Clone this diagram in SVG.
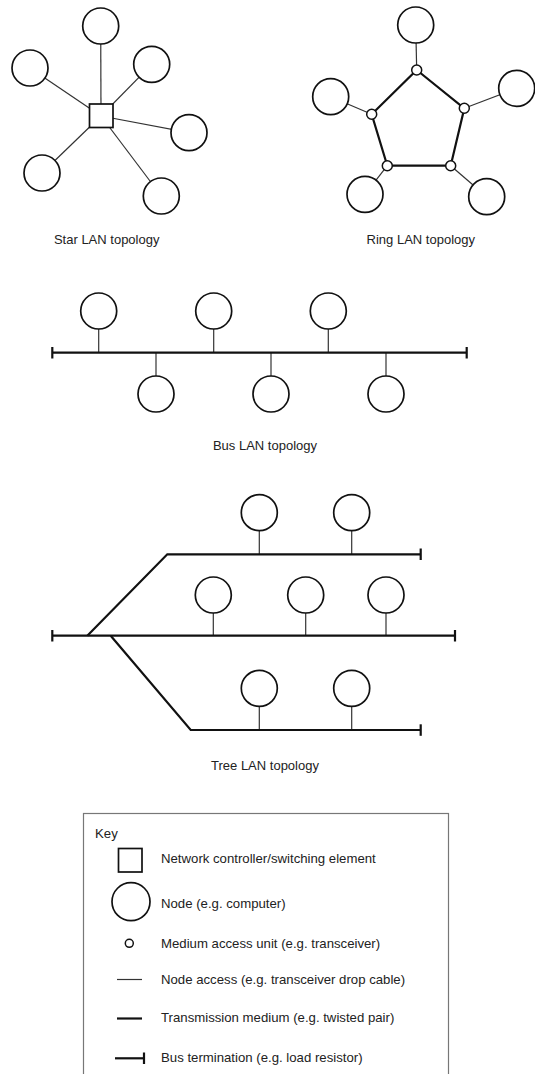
<svg xmlns="http://www.w3.org/2000/svg" width="535" height="1074" viewBox="0 0 535 1074">
<style>
  .node { fill: #fff; stroke: #111; stroke-width: 1.7; }
  .mau { fill: #fff; stroke: #111; stroke-width: 1.5; }
  .ctrl { fill: #fff; stroke: #111; stroke-width: 1.7; }
  .drop { stroke: #333; stroke-width: 1.2; fill: none; }
  .medium { stroke: #111; stroke-width: 2.2; fill: none; }
  .term { stroke: #111; stroke-width: 2.2; fill: none; }
  .label { font-family: "Liberation Sans", Arial, sans-serif; font-size: 13px; fill: #222; }
  .keytext { font-family: "Liberation Sans", Arial, sans-serif; font-size: 13.2px; fill: #222; }
  .keybox { fill: none; stroke: #777; stroke-width: 1.2; }
</style>
<defs>
  <circle id="n" r="18" class="node"/>
</defs>

<!-- connectors -->
<g id="connectors">
  <!-- star -->
  <g id="star-links" class="drop">
    <line x1="101" y1="116" x2="100.7" y2="26"/>
    <line x1="101" y1="116" x2="30" y2="68"/>
    <line x1="101" y1="116" x2="151.7" y2="64.3"/>
    <line x1="101" y1="116" x2="189" y2="132.7"/>
    <line x1="101" y1="116" x2="42" y2="173"/>
    <line x1="101" y1="116" x2="161.3" y2="196"/>
  </g>
  <!-- ring -->
  <g id="ring-drops" class="drop">
    <line x1="416.7" y1="70" x2="415.7" y2="25"/>
    <line x1="464.3" y1="108.3" x2="516.7" y2="88.3"/>
    <line x1="371.7" y1="114.3" x2="330.7" y2="96.7"/>
    <line x1="387.3" y1="165.7" x2="365" y2="194.3"/>
    <line x1="450.7" y1="165.7" x2="486.7" y2="196.7"/>
  </g>
  <polygon id="ring-medium" class="medium" points="416.7,70 464.3,108.3 450.7,165.7 387.3,165.7 371.7,114.3"/>
  <!-- bus -->
  <g id="bus-drops" class="drop">
    <line x1="98.7" y1="311" x2="98.7" y2="352.7"/>
    <line x1="213.7" y1="311" x2="213.7" y2="352.7"/>
    <line x1="328.3" y1="311" x2="328.3" y2="352.7"/>
    <line x1="156" y1="352.7" x2="156" y2="394"/>
    <line x1="271" y1="352.7" x2="271" y2="394"/>
    <line x1="386" y1="352.7" x2="386" y2="394"/>
  </g>
  <line id="bus-medium" class="medium" x1="52.3" y1="352.7" x2="466.7" y2="352.7"/>
  <g class="term">
    <line x1="52.3" y1="347" x2="52.3" y2="358.5"/>
    <line x1="466.7" y1="347" x2="466.7" y2="358.5"/>
  </g>
  <!-- tree -->
  <g id="tree-drops" class="drop">
    <line x1="259.3" y1="512.7" x2="259.3" y2="554.3"/>
    <line x1="351.7" y1="512.7" x2="351.7" y2="554.3"/>
    <line x1="213.3" y1="595" x2="213.3" y2="635.7"/>
    <line x1="305.7" y1="595" x2="305.7" y2="635.7"/>
    <line x1="386" y1="595" x2="386" y2="635.7"/>
    <line x1="259.3" y1="688.3" x2="259.3" y2="730"/>
    <line x1="351.7" y1="688.3" x2="351.7" y2="730"/>
  </g>
  <g id="tree-medium" class="medium">
    <polyline points="87.3,635.7 167.3,554.3 420.7,554.3"/>
    <line x1="52.3" y1="635.7" x2="455" y2="635.7"/>
    <polyline points="110.7,635.7 190.7,730 420.7,730"/>
  </g>
  <g class="term">
    <line x1="420.7" y1="548.5" x2="420.7" y2="560"/>
    <line x1="52.3" y1="630" x2="52.3" y2="641.5"/>
    <line x1="455" y1="630" x2="455" y2="641.5"/>
    <line x1="420.7" y1="724.3" x2="420.7" y2="735.8"/>
  </g>
</g>

<!-- star nodes -->
<g id="star-controller"><rect class="ctrl" x="89.5" y="104" width="23.5" height="23.5"/></g>
<g id="star-n1"><use href="#n" x="100.7" y="26"/></g>
<g id="star-n2"><use href="#n" x="30" y="68"/></g>
<g id="star-n3"><use href="#n" x="151.7" y="64.3"/></g>
<g id="star-n4"><use href="#n" x="189" y="132.7"/></g>
<g id="star-n5"><use href="#n" x="42" y="173"/></g>
<g id="star-n6"><use href="#n" x="161.3" y="196"/></g>
<text class="label" x="106.7" y="244" text-anchor="middle">Star LAN topology</text>

<!-- ring nodes -->
<g id="ring-n1"><use href="#n" x="415.7" y="25"/></g>
<g id="ring-n2"><use href="#n" x="516.7" y="88.3"/></g>
<g id="ring-n3"><use href="#n" x="330.7" y="96.7"/></g>
<g id="ring-n4"><use href="#n" x="365" y="194.3"/></g>
<g id="ring-n5"><use href="#n" x="486.7" y="196.7"/></g>
<g id="ring-mau1"><circle class="mau" cx="416.7" cy="70" r="5"/></g>
<g id="ring-mau2"><circle class="mau" cx="464.3" cy="108.3" r="5"/></g>
<g id="ring-mau3"><circle class="mau" cx="371.7" cy="114.3" r="5"/></g>
<g id="ring-mau4"><circle class="mau" cx="387.3" cy="165.7" r="5"/></g>
<g id="ring-mau5"><circle class="mau" cx="450.7" cy="165.7" r="5"/></g>
<text class="label" x="420.8" y="243.5" text-anchor="middle">Ring LAN topology</text>

<!-- bus nodes -->
<g id="bus-n1"><use href="#n" x="98.7" y="311"/></g>
<g id="bus-n2"><use href="#n" x="213.7" y="311"/></g>
<g id="bus-n3"><use href="#n" x="328.3" y="311"/></g>
<g id="bus-n4"><use href="#n" x="156" y="394"/></g>
<g id="bus-n5"><use href="#n" x="271" y="394"/></g>
<g id="bus-n6"><use href="#n" x="386" y="394"/></g>
<text class="label" x="265" y="450" text-anchor="middle">Bus LAN topology</text>

<!-- tree nodes -->
<g id="tree-n1"><use href="#n" x="259.3" y="512.7"/></g>
<g id="tree-n2"><use href="#n" x="351.7" y="512.7"/></g>
<g id="tree-n3"><use href="#n" x="213.3" y="595"/></g>
<g id="tree-n4"><use href="#n" x="305.7" y="595"/></g>
<g id="tree-n5"><use href="#n" x="386" y="595"/></g>
<g id="tree-n6"><use href="#n" x="259.3" y="688.3"/></g>
<g id="tree-n7"><use href="#n" x="351.7" y="688.3"/></g>
<text class="label" x="265" y="770" text-anchor="middle">Tree LAN topology</text>

<!-- key -->
<g id="key">
  <rect class="keybox" x="83.5" y="813.5" width="365" height="270"/>
  <text class="keytext" x="95" y="838">Key</text>
  <rect class="ctrl" x="118.5" y="848.5" width="23.5" height="23.5"/>
  <text class="keytext" x="161" y="863">Network controller/switching element</text>
  <circle class="node" cx="131" cy="901.7" r="19"/>
  <text class="keytext" x="161" y="908">Node (e.g. computer)</text>
  <circle class="mau" cx="129.3" cy="943.3" r="4"/>
  <text class="keytext" x="161" y="948">Medium access unit (e.g. transceiver)</text>
  <line class="drop" x1="117" y1="979.5" x2="142" y2="979.5" stroke="#666"/>
  <text class="keytext" x="161" y="983.5">Node access (e.g. transceiver drop cable)</text>
  <line class="medium" x1="117" y1="1018.5" x2="142" y2="1018.5"/>
  <text class="keytext" x="161" y="1022">Transmission medium (e.g. twisted pair)</text>
  <line class="medium" x1="115" y1="1058.3" x2="144" y2="1058.3"/>
  <line class="term" x1="144" y1="1052.5" x2="144" y2="1064"/>
  <text class="keytext" x="161" y="1062">Bus termination (e.g. load resistor)</text>
</g>
</svg>
